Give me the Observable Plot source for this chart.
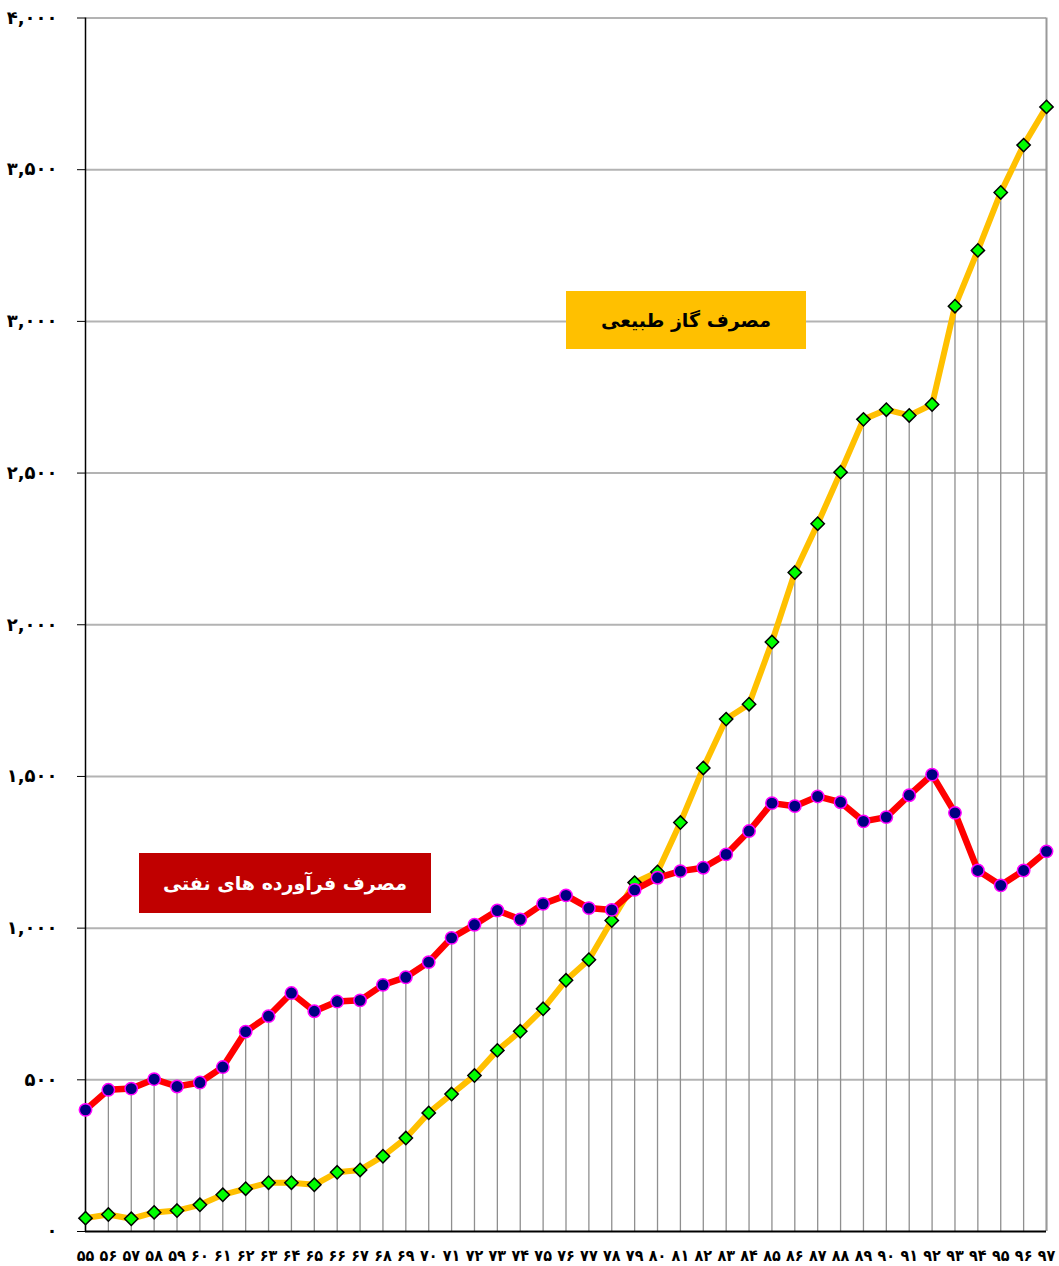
<!DOCTYPE html>
<html>
<head>
<meta charset="utf-8">
<script src="https://cdn.jsdelivr.net/npm/d3@7"></script>
<script src="https://cdn.jsdelivr.net/npm/@observablehq/plot@0.6"></script>
<style>
  body { margin: 0; background: #fff; }
  #wrap { position: relative; width: 1059px; height: 1266px; font-family: "DejaVu Sans", sans-serif; }
  .tag { position: absolute; display: flex; align-items: center; justify-content: center;
         font-weight: bold; font-size: 19px; direction: rtl; font-family: "DejaVu Sans", sans-serif; }
  #gasTag { left: 566px; top: 291px; width: 240px; height: 58px; background: #FFC000; color: #000; }
  #oilTag { left: 139px; top: 853px; width: 292px; height: 60px; background: #C00000; color: #fff; }
  .xax text { font-family: "DejaVu Sans Condensed", "DejaVu Sans", sans-serif; }
</style>
</head>
<body>
<div id="wrap">
  <div id="chart"></div>
  <div class="tag" id="gasTag"></div>
  <div class="tag" id="oilTag"></div>
</div>
<script>
const years = [55,56,57,58,59,60,61,62,63,64,65,66,67,68,69,70,71,72,73,74,75,76,77,78,79,80,81,82,83,84,85,86,87,88,89,90,91,92,93,94,95,96,97];
const gasConsumption = [44,56,42,63,69,88,121,141,161,161,154,195,203,248,308,391,453,514,597,660,734,828,896,1025,1150,1185,1348,1528,1689,1738,1943,2172,2333,2503,2677,2709,2690,2726,3050,3234,3425,3581,3707];
const oilProducts = [401,467,471,502,478,491,542,659,710,786,726,758,762,813,838,888,968,1011,1058,1029,1080,1108,1066,1060,1126,1166,1188,1199,1243,1320,1412,1402,1434,1415,1352,1366,1438,1506,1380,1190,1141,1190,1253];
const yTicks = [0,500,1000,1500,2000,2500,3000,3500,4000];
const gasLabel = "مصرف گاز طبیعی";
const oilLabel = "مصرف فرآورده های نفتی";

const persianDigits = "۰۱۲۳۴۵۶۷۸۹";
const toFa = s => String(s).replace(/[0-9]/g, d => persianDigits[+d]);

const data = years.map((y, i) => ({year: y, gas: gasConsumption[i], oil: oilProducts[i]}));
const firstYear = years[0], lastYear = years[years.length - 1];

const chart = Plot.plot({
  width: 1059,
  height: 1266,
  marginLeft: 85,
  marginRight: 13,
  marginTop: 17.5,
  marginBottom: 35,
  style: {fontFamily: "DejaVu Sans, sans-serif", fontWeight: "bold", background: "transparent", color: "#000"},
  x: {domain: [firstYear, lastYear], label: null},
  y: {domain: [0, 4000], label: null},
  marks: [
    Plot.ruleY(yTicks.filter(t => t > 0), {stroke: "#b3b3b3", strokeWidth: 2}),
    Plot.ruleX(data, {x: "year", y1: 0, y2: d => Math.max(d.gas, d.oil), stroke: "#8f8f8f", strokeWidth: 1.3}),
    Plot.ruleX([lastYear], {stroke: "#9a9a9a", strokeWidth: 2}),
    Plot.ruleX([firstYear], {stroke: "#000", strokeWidth: 1.5}),
    Plot.ruleY([0], {stroke: "#000", strokeWidth: 2}),
    Plot.axisX({ticks: years, tickFormat: d => toFa(d), tickSize: 0, tickPadding: 18, fontSize: 16, fontWeight: "bold", label: null, className: "xax"}),
    Plot.axisY({ticks: yTicks, tickFormat: d => toFa(d3.format(",")(d)), tickSize: 8, tickPadding: 20, fontSize: 18, fontWeight: "bold", label: null}),
    Plot.line(data, {x: "year", y: "gas", stroke: "#FFC000", strokeWidth: 6, strokeLinejoin: "round"}),
    Plot.dot(data, {x: "year", y: "gas", symbol: "diamond2", r: 6, fill: "#00FF00", stroke: "#000", strokeWidth: 1.5}),
    Plot.line(data, {x: "year", y: "oil", stroke: "#FF0000", strokeWidth: 6.5, strokeLinejoin: "round"}),
    Plot.dot(data, {x: "year", y: "oil", r: 6.2, fill: "#000080", stroke: "#FF00FF", strokeWidth: 1.5})
  ]
});
document.getElementById("chart").appendChild(chart);
document.getElementById("gasTag").textContent = gasLabel;
document.getElementById("oilTag").textContent = oilLabel;
</script>
</body>
</html>
